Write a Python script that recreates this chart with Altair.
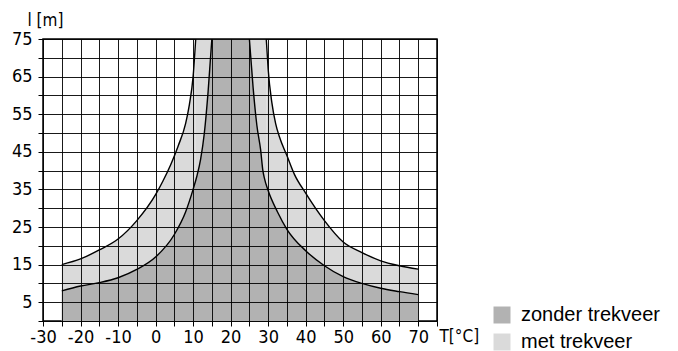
import altair as alt
import pandas as pd

# axis tick positions
x_ticks = list(range(-30, 76, 5))
y_ticks = list(range(0, 76, 5))

series_names = ["zonder trekveer", "met trekveer"]
series_colors = ["#b2b2b2", "#dadada"]

# zonder trekveer (inner curve)
zonder_left_T = [-25, -20, -15, -10, -5, 0, 5, 8, 10, 11, 12, 13, 14, 15]
zonder_left_l = [8, 9.3, 10.2, 11.5, 13.7, 17, 23, 29, 35, 38.5, 43, 50, 61, 75]
zonder_right_T = [25, 26, 27, 28, 28.6, 29, 30, 32.5, 35, 40, 45, 50, 55, 60, 65, 70]
zonder_right_l = [75, 62, 52, 45.5, 40, 38, 34.7, 29, 24.4, 18.7, 14.7, 11.8, 10, 8.7, 7.8, 7]

# met trekveer (outer curve)
met_left_T = [-25, -20, -15, -10, -5, 0, 2, 4, 6, 8, 9, 10, 10.7]
met_left_l = [15, 16.5, 18.9, 21.8, 26.7, 33.6, 37.3, 41.5, 46.5, 52.5, 57.5, 65, 75]
met_right_T = [29.5, 30, 31, 32, 33, 35, 37, 40, 45, 50, 55, 60, 65, 70]
met_right_l = [75, 67, 58, 52.5, 49, 44, 39, 34, 26.7, 21, 18.2, 16, 14.7, 13.8]


def build(name, lt, ll, rt, rl):
    rows = []
    for t, l in zip(lt, ll):
        rows.append({"T": t, "l": l, "branch": "L", "series": name})
    rows.append({"T": lt[-1], "l": 75, "branch": "M", "series": name})
    rows.append({"T": rt[0], "l": 75, "branch": "M", "series": name})
    for t, l in zip(rt, rl):
        rows.append({"T": t, "l": l, "branch": "R", "series": name})
    return pd.DataFrame(rows)


df_zonder = build(series_names[0], zonder_left_T, zonder_left_l, zonder_right_T, zonder_right_l)
df_met = build(series_names[1], met_left_T, met_left_l, met_right_T, met_right_l)

FONT = "DejaVu Sans Condensed, DejaVu Sans, sans-serif"

x_enc = alt.X(
    "T:Q",
    scale=alt.Scale(domain=[-30, 75], nice=False, zero=False),
    axis=alt.Axis(
        values=x_ticks,
        labelExpr="(datum.value % 10 == 0 && datum.value <= 70) ? ('' + datum.value) : ''",
        labelOverlap=False,
        labelFlush=False,
        title="T[°C]",
        titleX=396,
        titleY=20,
        titleAlign="left",
        titleBaseline="alphabetic",
        zindex=1,
    ),
)
y_enc = alt.Y(
    "l:Q",
    stack=None,
    scale=alt.Scale(domain=[0, 75], nice=False),
    axis=alt.Axis(
        values=y_ticks,
        labelExpr="(datum.value % 10 == 5) ? ('' + datum.value) : ''",
        labelOverlap=False,
        labelFlush=False,
        title="l [m]",
        titleAngle=0,
        titleX=-16,
        titleY=-14,
        titleAlign="left",
        titleBaseline="alphabetic",
        zindex=1,
    ),
)
color_enc = alt.Color(
    "series:N",
    scale=alt.Scale(domain=series_names, range=series_colors),
    legend=alt.Legend(
        title=None,
        orient="none",
        legendX=449,
        legendY=266,
        symbolType="square",
        symbolSize=289,
        symbolStrokeWidth=0,
        symbolOpacity=1,
        labelFont="Liberation Sans",
        labelFontSize=20,
        labelColor="#000",
        labelOffset=9,
        rowPadding=7,
    ),
)

area_met = alt.Chart(df_met).mark_area(interpolate="monotone", clip=True, opacity=1).encode(
    x=x_enc, y=y_enc, y2=alt.datum(0), color=color_enc, detail="branch:N"
)
area_zonder = alt.Chart(df_zonder).mark_area(interpolate="monotone", clip=True, opacity=1).encode(
    x=x_enc, y=y_enc, y2=alt.datum(0), color=color_enc, detail="branch:N"
)
line_met = alt.Chart(df_met).transform_filter("datum.branch != 'M'").mark_line(
    interpolate="monotone", color="#000", strokeWidth=1.4, clip=True
).encode(x=x_enc, y=y_enc, detail="branch:N")
line_zonder = alt.Chart(df_zonder).transform_filter("datum.branch != 'M'").mark_line(
    interpolate="monotone", color="#000", strokeWidth=1.4, clip=True
).encode(x=x_enc, y=y_enc, detail="branch:N")

chart = (
    alt.layer(area_met, area_zonder, line_met, line_zonder)
    .properties(
        width=394,
        height=282,
        autosize=alt.AutoSizeParams(type="none"),
        padding={"left": 35, "top": 31, "right": 228, "bottom": 30},
    )
    .configure_view(stroke="#000", strokeWidth=1.5)
    .configure_axis(
        grid=True,
        gridColor="#000",
        gridWidth=1,
        gridOpacity=0.9,
        domain=False,
        tickColor="#000",
        tickSize=5,
        tickWidth=1,
        labelFont=FONT,
        labelFontSize=18,
        labelColor="#000",
        titleFont=FONT,
        titleFontSize=17,
        titleFontWeight="normal",
        titleColor="#000",
    )
    .configure_axisX(labelPadding=2, labelAngle=0)
    .configure_axisY(labelPadding=6)
)

chart.save("out.html", embed_options={"renderer": "svg", "actions": False})
